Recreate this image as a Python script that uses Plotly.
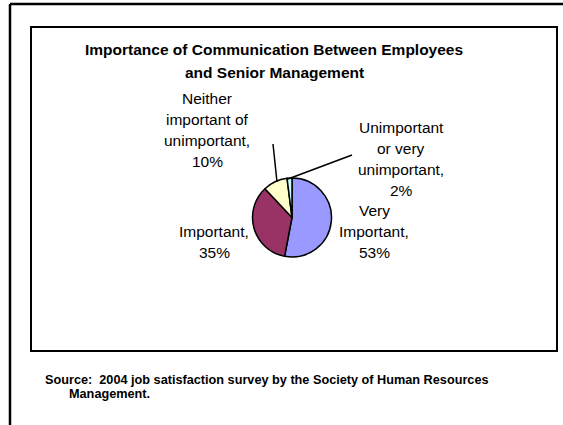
import plotly.graph_objects as go

# ---- data ----
categories = ["Very Important", "Important", "Neither important of unimportant", "Unimportant or very unimportant"]
label_lines = [["Very", "Important,"], ["Important,"], ["Neither", "important of", "unimportant,"], ["Unimportant", "or very", "unimportant,"]]
values = [53, 35, 10, 2]
colors = ["#9999FF", "#993366", "#FFFFCC", "#CCFFFF"]
title_lines = ["Importance of Communication Between Employees", "and Senior Management"]
source_lines = ["Source:  2004 job satisfaction survey by the Society of Human Resources", "Management."]

W, H = 563, 425
FONT = "Arial, 'Liberation Sans', sans-serif"

# pie placement (pixels)
cx, cy, r = 292, 217.5, 39.5

fig = go.Figure()
fig.add_trace(go.Pie(
    labels=categories, values=values, sort=False, direction="clockwise", rotation=0,
    marker=dict(colors=colors, line=dict(color="black", width=1.5)),
    textinfo="none", hoverinfo="label+percent", showlegend=False,
    domain=dict(x=[(cx - r) / W, (cx + r) / W], y=[1 - (cy + r) / H, 1 - (cy - r) / H]),
))

# label positions (pixel centers of first line) and line height
label_pos = [(374, 210), (214, 231), (207, 98), (401, 127)]
LH = 21.3
for lines, v, (lx, ly) in zip(label_lines, values, label_pos):
    all_lines = lines + [f"{v}%"]
    for i, t in enumerate(all_lines):
        fig.add_annotation(x=lx, y=ly + i * LH, xref="x", yref="y", text=t, showarrow=False,
                           font=dict(family=FONT, size=15.5, color="black"), xanchor="center", yanchor="middle")

# title
for i, t in enumerate(title_lines):
    fig.add_annotation(x=274, y=49 + i * 23, xref="x", yref="y", text=f"<b>{t}</b>", showarrow=False,
                       font=dict(family=FONT, size=15.5, color="black"), xanchor="center", yanchor="middle")

# source
fig.add_annotation(x=43, y=380, xref="x", yref="y", text=f"<b>{source_lines[0]}</b>", showarrow=False,
                   font=dict(family=FONT, size=12.7, color="black"), xanchor="left", yanchor="middle")
fig.add_annotation(x=67, y=394, xref="x", yref="y", text=f"<b>{source_lines[1]}</b>", showarrow=False,
                   font=dict(family=FONT, size=12.7, color="black"), xanchor="left", yanchor="middle")

shapes = [
    dict(type="line", x0=10, y0=4, x1=10, y1=425, line=dict(color="black", width=2.5)),
    dict(type="line", x0=10, y0=4, x1=563, y1=4, line=dict(color="black", width=2.5)),
    dict(type="rect", x0=31, y0=27, x1=557, y1=351, line=dict(color="black", width=2)),
    # leader lines
    dict(type="line", x0=273, y0=144, x1=277, y1=182, line=dict(color="black", width=1.5)),
    dict(type="line", x0=352, y0=155, x1=288, y1=179, line=dict(color="black", width=1.5)),
]
fig.update_layout(
    width=W, height=H, margin=dict(l=0, r=0, t=0, b=0),
    paper_bgcolor="white", plot_bgcolor="rgba(0,0,0,0)",
    xaxis=dict(range=[0, W], visible=False, fixedrange=True),
    yaxis=dict(range=[H, 0], visible=False, fixedrange=True),
    shapes=shapes,
)
fig.write_html("out.html")
